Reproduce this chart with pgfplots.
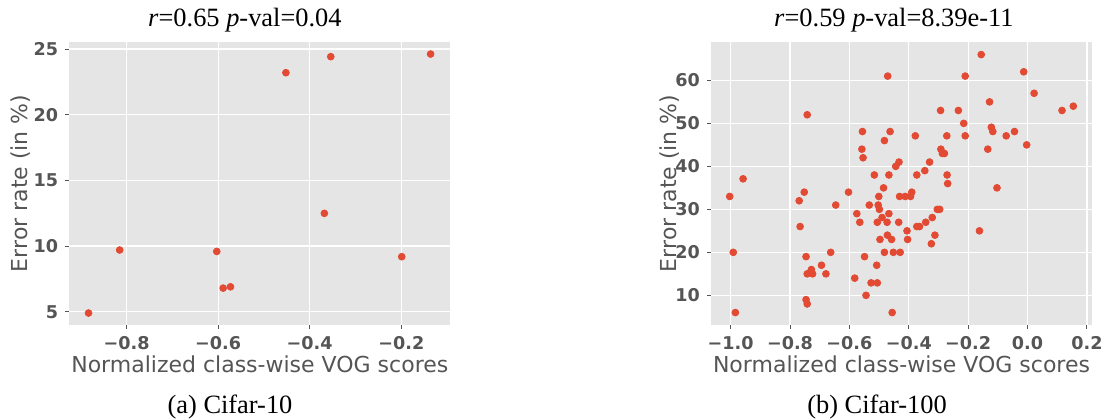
\documentclass[border=0pt]{standalone}
\usepackage{pgfplots}
\pgfplotsset{compat=1.18}
\usepackage{fontspec}
\setmainfont{Liberation Serif}
\newfontfamily\dejavu{DejaVu Sans}

\definecolor{ggbg}{HTML}{E5E5E5}
\definecolor{ggred}{HTML}{E24A33}
\definecolor{ggtext}{HTML}{555555}

\pgfplotsset{
  ggscatter/.style={
    scale only axis,
    width=190.5pt, height=141.65pt,
    axis background/.style={fill=ggbg},
    axis line style={draw=none},
    grid=major,
    major grid style={white, line width=0.6pt},
    tick align=outside,
    major tick length=2pt,
    tick style={ggtext, line width=0.5pt},
    xtick pos=left, ytick pos=left,
    /pgf/number format/assume math mode=true,
    ticklabel style={font=\dejavu\bfseries\fontsize{8.8}{10}\selectfont, text=ggtext},
    xlabel style={font=\dejavu\fontsize{11}{13}\selectfont, text=ggtext,
      at={(axis description cs:0.5,-0.138)}, anchor=center},
    ylabel style={font=\dejavu\fontsize{11}{13}\selectfont, text=ggtext,
      anchor=center, rotate=0},
    xlabel={Normalized class-wise VOG scores},
    ylabel={Error rate (in \%)},
  },
  every axis title/.style={font=\fontsize{13.2}{15}\selectfont,
    anchor=base, yshift=7.5pt},
  ggdots/.style={only marks, mark=*, mark size=1.7pt,
    mark options={fill=ggred, draw=ggred}},
}

\begin{document}
\begin{tikzpicture}
\path[use as bounding box] (0,0) rectangle (551pt,209pt);

% Cifar-10: one point per class
\begin{axis}[ggscatter, name=left,
  at={(34.65pt,46.5pt)}, anchor=south west,
  xmin=-0.925, xmax=-0.093, ymin=3.99, ymax=25.56,
  xtick={-0.8,-0.6,-0.4,-0.2},
  xticklabels={−0.8,−0.6,−0.4,−0.2},
  ytick={5,10,15,20,25},
  ylabel style={at={(axis description cs:-0.129,0.5)}},
  title style={at={(axis description cs:0.461,1)}},
  title={\textit{r}=0.65 \textit{p}-val=0.04},
]
\addplot[ggdots] table {
x y
-0.883 4.90
-0.815 9.70
-0.603 9.59
-0.589 6.80
-0.573 6.90
-0.452 23.20
-0.368 12.49
-0.354 24.42
-0.199 9.19
-0.136 24.62
};
\end{axis}

% Cifar-100: one point per class
\begin{axis}[ggscatter, name=right,
  at={(355.5pt,46.5pt)}, anchor=south west,
  xmin=-1.066, xmax=0.217, ymin=3.1, ymax=69.0,
  xtick={-1.0,-0.8,-0.6,-0.4,-0.2,0.0,0.2},
  xticklabels={−1.0,−0.8,−0.6,−0.4,−0.2,0.0,0.2},
  ytick={10,20,30,40,50,60},
  ylabel style={at={(axis description cs:-0.110,0.5)}},
  title style={at={(axis description cs:0.480,1)}},
  title={\textit{r}=0.59 \textit{p}-val=8.39e-11},
]
\addplot[ggdots] table {
x y
-0.156 66.0
-0.471 61.0
-0.210 61.0
-0.013 62.0
0.022 57.0
-0.128 55.0
-0.293 53.0
-0.233 53.0
0.116 53.0
0.154 54.0
-0.742 52.0
-0.215 50.0
-0.122 49.1
-0.117 48.1
-0.044 48.1
-0.072 47.1
-0.556 48.1
-0.463 48.1
-0.482 46.0
-0.378 47.1
-0.272 47.1
-0.210 47.1
-0.558 44.0
-0.554 42.0
-0.292 44.0
-0.287 43.0
-0.280 43.0
-0.134 44.0
-0.003 45.0
-0.433 41.0
-0.444 40.0
-0.330 41.0
-0.346 39.0
-0.516 38.0
-0.467 38.0
-0.373 38.0
-0.271 38.0
-0.269 36.0
-0.958 37.1
-0.103 35.0
-0.485 35.0
-0.603 34.0
-0.752 34.0
-0.501 33.0
-0.431 33.0
-0.412 33.0
-0.394 33.0
-0.390 34.0
-1.003 33.0
-0.769 32.0
-0.646 31.0
-0.533 31.0
-0.503 31.0
-0.499 30.0
-0.304 30.0
-0.296 30.0
-0.575 29.0
-0.467 29.0
-0.490 28.1
-0.565 27.0
-0.506 27.0
-0.473 27.0
-0.434 27.0
-0.343 27.0
-0.321 28.1
-0.766 26.0
-0.373 26.0
-0.364 26.0
-0.406 25.0
-0.162 25.0
-0.312 24.0
-0.472 24.0
-0.497 23.0
-0.458 23.0
-0.404 23.0
-0.324 22.0
-0.991 20.0
-0.663 20.0
-0.482 20.0
-0.452 20.0
-0.429 20.0
-0.746 19.0
-0.549 19.0
-0.694 17.0
-0.728 16.0
-0.742 15.0
-0.724 15.0
-0.679 15.0
-0.508 17.0
-0.582 14.0
-0.527 12.9
-0.506 12.9
-0.544 10.0
-0.746 9.0
-0.742 8.0
-0.984 6.0
-0.456 6.0
};
\end{axis}

% sub-figure captions, centred in each half of the figure
\node[anchor=base, font=\fontsize{13.2}{15}\selectfont]
  at (115pt,2.4pt) {(a) Cifar-10};
\node[anchor=base, font=\fontsize{13.2}{15}\selectfont]
  at (438.5pt,2.4pt) {(b) Cifar-100};
\end{tikzpicture}
\end{document}
